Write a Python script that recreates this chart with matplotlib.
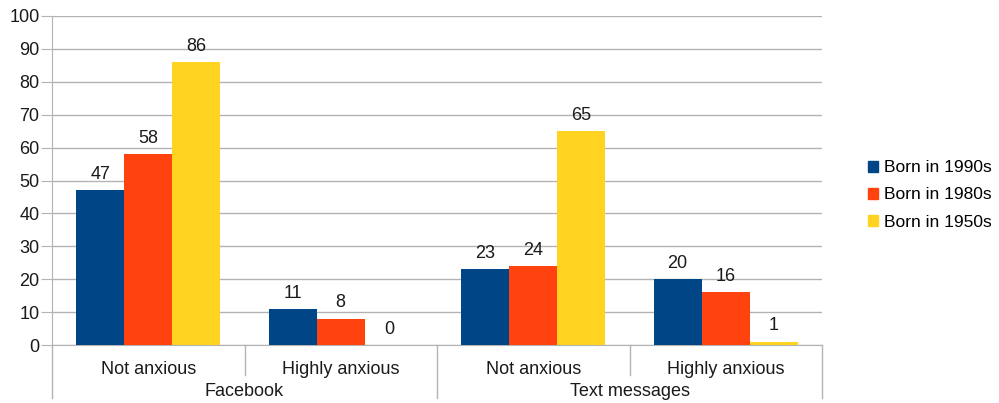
import numpy as np
import matplotlib.pyplot as plt
from matplotlib.patches import Rectangle
from matplotlib.lines import Line2D

plt.rcParams['font.family'] = ['Liberation Sans', 'DejaVu Sans']

categories = ['Not anxious', 'Highly anxious', 'Not anxious', 'Highly anxious']
groups = ['Facebook', 'Text messages']
series_names = ['Born in 1990s', 'Born in 1980s', 'Born in 1950s']
born_1990s = [47, 11, 23, 20]
born_1980s = [58, 8, 24, 16]
born_1950s = [86, 0, 65, 1]
colors = ['#004586', '#ff420e', '#ffd320']

fig = plt.figure(figsize=(9.99, 4.03), dpi=100)
ax = fig.add_axes([52 / 999, 1 - 345 / 403, 770 / 999, 329 / 403])

x = np.arange(len(categories))
w = 0.25
for i, (vals, c, name) in enumerate(zip([born_1990s, born_1980s, born_1950s], colors, series_names)):
    pos = x + (i - 1) * w
    ax.bar(pos, vals, width=w, color=c, label=name, zorder=3)
    for p, v in zip(pos, vals):
        ax.text(p, v + 2.2, str(v), ha='center', va='bottom', fontsize=13, color='#1a1a1a')

ax.set_xlim(-0.5, 3.5)
ax.set_ylim(0, 100)
ax.set_yticks(range(0, 101, 10))
ax.tick_params(axis='y', length=8, color='#b3b3b3', labelsize=13, labelcolor='#1a1a1a', pad=1)
ax.tick_params(axis='x', length=0, labelbottom=False)
ax.grid(axis='y', color='#b3b3b3', linewidth=1, zorder=0)
for s in ['top', 'right']:
    ax.spines[s].set_visible(False)
ax.spines['left'].set_color('#b3b3b3')
ax.spines['bottom'].set_color('#b3b3b3')

# two-level category axis below
trans = ax.get_xaxis_transform()
sep_full = [-0.5, 1.5, 3.5]
sep_short = [0.5, 2.5]
for s in sep_full:
    ax.add_line(Line2D([s, s], [0, -53 / 329], transform=trans, color='#b3b3b3', lw=1, clip_on=False))
for s in sep_short:
    ax.add_line(Line2D([s, s], [0, -30 / 329], transform=trans, color='#b3b3b3', lw=1, clip_on=False))
for xi, lab in zip(x, categories):
    ax.text(xi, -24 / 329, lab, transform=trans, ha='center', va='center', fontsize=13, color='#1a1a1a')
for gi, g in enumerate(groups):
    ax.text(0.5 + 2 * gi, -47 / 329, g, transform=trans, ha='center', va='center', fontsize=13, color='#1a1a1a')

# legend
handles = [Rectangle((0, 0), 1, 1, color=c) for c in colors]
fig.legend(handles, series_names, loc='center left', bbox_to_anchor=(868 / 999, 1 - 195 / 403),
           frameon=False, fontsize=12.5, handlelength=0.6, handleheight=0.6, handletextpad=0.35,
           labelspacing=0.7, borderaxespad=0, borderpad=0)

fig.savefig('out.png', dpi=100, facecolor='white')
